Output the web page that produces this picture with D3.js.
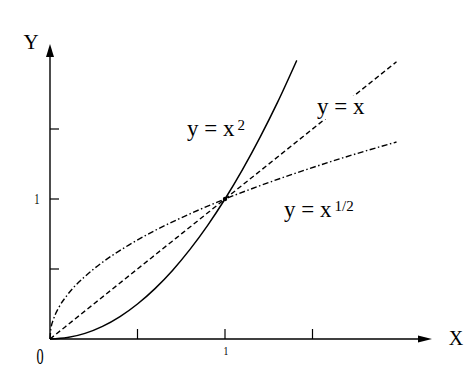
<!DOCTYPE html>
<html><head><meta charset="utf-8">
<script src="https://cdn.jsdelivr.net/npm/d3@7"></script>
<style>body{margin:0;background:#fff}svg{display:block}text{font-family:"Liberation Serif","Times New Roman",serif;fill:#000}</style>
</head><body>
<svg id="c" width="475" height="374"></svg>
<script>
// data
const xTicks = [0.5, 1, 1.5];
const yTicks = [0.5, 1, 1.5];
const xsSquare = [0, 0.1, 0.2, 0.3, 0.4, 0.5, 0.6, 0.7, 0.8, 0.9, 1.0, 1.1, 1.2, 1.3, 1.41];
const ysSquare = [0, 0.01, 0.04, 0.09, 0.16, 0.25, 0.36, 0.49, 0.64, 0.81, 1.0, 1.21, 1.44, 1.69, 1.99];
const xsLinear = [0, 1, 1.98];
const ysLinear = [0, 1, 1.98];
const xsRoot = [0, 0.005, 0.02, 0.05, 0.1, 0.2, 0.3, 0.45, 0.6, 0.8, 1.0, 1.2, 1.4, 1.6, 1.8, 1.98];
const ysRoot = [0, 0.071, 0.141, 0.224, 0.316, 0.447, 0.548, 0.671, 0.775, 0.894, 1.0, 1.095, 1.183, 1.265, 1.342, 1.407];

const svg = d3.select("#c");
const x = d3.scaleLinear().domain([0, 1]).range([50, 225]);
const y = d3.scaleLinear().domain([0, 1]).range([339, 199]);

// axes
svg.append("line").attr("x1", x(0)).attr("y1", y(0)).attr("x2", 420).attr("y2", y(0)).attr("stroke", "#000").attr("stroke-width", 1.4);
svg.append("path").attr("d", `M432,${y(0)} L418,${y(0)-3.5} L418,${y(0)+3.5} Z`).attr("fill", "#000");
svg.append("line").attr("x1", x(0)).attr("y1", y(0)).attr("x2", x(0)).attr("y2", 57).attr("stroke", "#000").attr("stroke-width", 1.4);
svg.append("path").attr("d", `M${x(0)},44 L${x(0)-4},57 L${x(0)+4},57 Z`).attr("fill", "#000");

svg.selectAll(".xt").data(xTicks).join("line")
  .attr("x1", d => x(d)).attr("x2", d => x(d)).attr("y1", y(0)).attr("y2", y(0) - 10)
  .attr("stroke", "#000").attr("stroke-width", 1.2);
svg.selectAll(".yt").data(yTicks).join("line")
  .attr("x1", x(0)).attr("x2", x(0) + 9).attr("y1", d => y(d)).attr("y2", d => y(d))
  .attr("stroke", "#000").attr("stroke-width", 1.2);

svg.append("text").attr("x", x(1) + 1).attr("y", 355).attr("text-anchor", "middle").attr("font-size", 13)
  .attr("transform", `translate(${x(1)+1},0) scale(0.75,1) translate(${-(x(1)+1)},0)`).text("1");
svg.append("text").attr("x", 37).attr("y", y(1) + 5).attr("text-anchor", "middle").attr("font-size", 14)
  .attr("transform", `translate(37,0) scale(0.75,1) translate(-37,0)`).text("1");
svg.append("text").attr("x", 40).attr("y", 364).attr("text-anchor", "middle").attr("font-size", 23)
  .attr("transform", `translate(40,0) scale(0.62,1) translate(-40,0)`).text("0");
svg.append("text").attr("x", 31).attr("y", 49).attr("text-anchor", "middle").attr("font-size", 21).text("Y");
svg.append("text").attr("x", 456).attr("y", 345).attr("text-anchor", "middle").attr("font-size", 20).text("X");

const line = d3.line().x(d => x(d[0])).y(d => y(d[1])).curve(d3.curveMonotoneX);
const zip = (a, b) => a.map((v, i) => [v, b[i]]);

svg.append("path").attr("d", line(zip(xsRoot, ysRoot))).attr("fill", "none").attr("stroke", "#000")
  .attr("stroke-width", 1.4).attr("stroke-dasharray", "6,2.5,1.5,2.5");
svg.append("path").attr("d", line(zip(xsLinear, ysLinear))).attr("fill", "none").attr("stroke", "#000")
  .attr("stroke-width", 1.4).attr("stroke-dasharray", "5,3");
svg.append("path").attr("d", line(zip(xsSquare, ysSquare))).attr("fill", "none").attr("stroke", "#000")
  .attr("stroke-width", 1.5);
svg.append("circle").attr("cx", x(1)).attr("cy", y(1)).attr("r", 2.2).attr("fill", "#000");

// labels
function label(tx, ty, main, sup) {
  const g = svg.append("g");
  const t = g.append("text").attr("x", tx).attr("y", ty).attr("font-size", 23).attr("xml:space", "preserve");
  t.append("tspan").text(main);
  if (sup) t.append("tspan").attr("dx", 3).attr("dy", -6).attr("font-size", 15).text(sup);
  return {g, t};
}
// white box behind y = x label
const lx = label(317, 114, "y = x");
const bb = lx.t.node().getBBox();
lx.g.insert("rect", "text").attr("x", bb.x - 2).attr("y", bb.y + 2).attr("width", bb.width + 4).attr("height", bb.height - 2).attr("fill", "#fff");
label(187, 136, "y = x", "2");
label(284, 217, "y = x", "1/2");
</script>
</body></html>
